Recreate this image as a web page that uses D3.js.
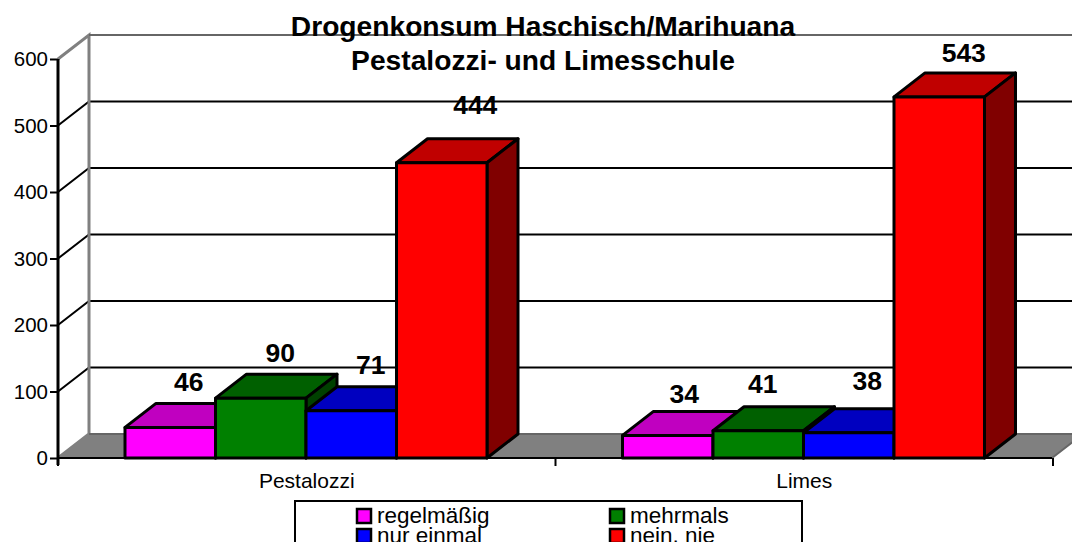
<!DOCTYPE html>
<html>
<head>
<meta charset="utf-8">
<style>
  html, body { margin: 0; padding: 0; background: #fff; overflow: hidden; }
  svg { display: block; font-family: "Liberation Sans", Arial, sans-serif; }
</style>
<script src="https://d3js.org/d3.v7.min.js"></script>
</head>
<body>
<div id="chart"></div>
<script type="text/javascript">
var categories = ["Pestalozzi", "Limes"];
var seriesNames = ["regelmäßig", "mehrmals", "nur einmal", "nein, nie"];
var regelmaessig = [46, 34];
var mehrmals = [90, 41];
var nurEinmal = [71, 38];
var neinNie = [444, 543];
var yTicks = [0, 100, 200, 300, 400, 500, 600];
var titleLines = ["Drogenkonsum Haschisch/Marihuana", "Pestalozzi- und Limesschule"];

var seriesValues = [regelmaessig, mehrmals, nurEinmal, neinNie];
var frontColors = ["#ff00ff", "#008000", "#0000ff", "#ff0000"];
var topColors = ["#c000c0", "#006000", "#0000c0", "#c00000"];
var sideColors = ["#800080", "#004000", "#000080", "#800000"];

// label offsets from the bar's back top edge, the original places them by hand
var labelNudge = [
  [[3, -12], [4, -12], [4, -13], [18, -25]],
  [[1, -8], [-11, -14], [3, -19], [9, -11]]
];

var w = 1072,
    h = 542,
    dx = 31,
    dy = -24;

var svg = d3.select("#chart").append("svg")
    .attr("width", w)
    .attr("height", h);

var x0 = d3.scaleBand().domain(categories).range([58, 1053]);
var x1 = d3.scaleBand().domain(d3.range(4)).range([67, 429]);
var y = d3.scaleLinear().domain([0, 600]).range([458, 59]);

// walls and floor
svg.append("path")
    .attr("d", "M" + [58, y(0)] + "L" + [58 + dx, y(0) + dy] + "L" + [1052 + dx, y(0) + dy] + "L" + [1052, y(0)] + "Z")
    .attr("fill", "#808080");

svg.selectAll(".grid")
    .data(yTicks.slice(1, 6))
    .enter().append("path")
    .attr("d", function(d) {
      return "M" + [58, y(d)] + "L" + [58 + dx, y(d) + dy] + "H" + (1052 + dx);
    })
    .attr("fill", "none")
    .attr("stroke", "#000")
    .attr("stroke-width", 2);

svg.append("path")
    .attr("d", "M" + [58, y(600)] + "L" + [58 + dx, y(600) + dy] + "V" + (y(0) + dy) + "L" + [58, y(0)])
    .attr("fill", "none")
    .attr("stroke", "#808080")
    .attr("stroke-width", 3);

svg.append("path")
    .attr("d", "M" + [58 + dx, y(600) + dy] + "H" + (1052 + dx) + "M" + [58 + dx, y(0) + dy] + "H" + (1052 + dx) + "L" + [1052, y(0)])
    .attr("fill", "none")
    .attr("stroke", "#666")
    .attr("stroke-width", 2);

// axes
var yAxis = d3.axisLeft(y).tickValues(yTicks).tickSize(8).tickPadding(2);
var yG = svg.append("g").attr("transform", "translate(58,0)").call(yAxis);
yG.selectAll("text").attr("font-size", 20.5).attr("font-family", "inherit").attr("fill", "#000");
yG.selectAll("line").attr("stroke", "#000").attr("stroke-width", 2);
yG.select(".domain").attr("stroke", "#000").attr("stroke-width", 3).attr("d", "M0," + y(600) + "V465");

var xG = svg.append("g").attr("transform", "translate(0," + y(0) + ")");
xG.append("path").attr("d", "M58,0H1052").attr("stroke", "#000").attr("stroke-width", 2);
xG.selectAll("line")
    .data([58, 58 + x0.bandwidth(), 58 + 2 * x0.bandwidth()])
    .enter().append("line")
    .attr("x1", function(d) { return d; })
    .attr("x2", function(d) { return d; })
    .attr("y2", 8)
    .attr("stroke", "#000")
    .attr("stroke-width", 2);
xG.selectAll("text")
    .data(categories)
    .enter().append("text")
    .attr("x", function(d) { return x0(d) + x0.bandwidth() / 2; })
    .attr("y", 30)
    .attr("text-anchor", "middle")
    .attr("font-size", 21)
    .text(function(d) { return d; });

// bars
categories.forEach(function(cat, c) {
  seriesValues.forEach(function(vals, s) {
    var left = x0(cat) + x1(s),
        right = left + x1.bandwidth(),
        top = y(vals[c]),
        base = y(0);
    var g = svg.append("g")
        .attr("stroke", "#000")
        .attr("stroke-width", 3)
        .attr("stroke-linejoin", "round");
    g.append("path")
        .attr("fill", topColors[s])
        .attr("d", "M" + [left, top] + "L" + [left + dx, top + dy] + "H" + (right + dx) + "L" + [right, top] + "Z");
    g.append("path")
        .attr("fill", sideColors[s])
        .attr("d", "M" + [right, top] + "L" + [right + dx, top + dy] + "V" + (base + dy) + "L" + [right, base] + "Z");
    g.append("path")
        .attr("fill", frontColors[s])
        .attr("d", "M" + [left, top] + "H" + right + "V" + base + "H" + left + "Z");
  });
});

// value labels
categories.forEach(function(cat, c) {
  seriesValues.forEach(function(vals, s) {
    svg.append("text")
        .attr("x", x0(cat) + x1(s) + x1.bandwidth() / 2 + dx / 2 + labelNudge[c][s][0])
        .attr("y", y(vals[c]) + dy + labelNudge[c][s][1])
        .attr("text-anchor", "middle")
        .attr("font-size", 26.5)
        .attr("font-weight", "bold")
        .text(vals[c]);
  });
});

// title
svg.selectAll(".title")
    .data(titleLines)
    .enter().append("text")
    .attr("class", "title")
    .attr("x", 543)
    .attr("y", function(d, i) { return 36 + i * 34; })
    .attr("text-anchor", "middle")
    .attr("font-size", 28.2)
    .attr("font-weight", "bold")
    .text(function(d) { return d; });

// legend
svg.append("rect")
    .attr("x", 295)
    .attr("y", 501)
    .attr("width", 507)
    .attr("height", 60)
    .attr("fill", "#fff")
    .attr("stroke", "#000")
    .attr("stroke-width", 2);

var legend = svg.selectAll(".legend")
    .data(seriesNames)
    .enter().append("g")
    .attr("class", "legend")
    .attr("transform", function(d, i) {
      return "translate(" + (i % 2 ? 610 : 357) + "," + (i < 2 ? 509 : 529) + ")";
    });
legend.append("rect")
    .attr("width", 14)
    .attr("height", 14)
    .attr("fill", function(d, i) { return frontColors[i]; })
    .attr("stroke", "#000")
    .attr("stroke-width", 2.5);
legend.append("text")
    .attr("x", 20)
    .attr("y", 14)
    .attr("font-size", 22.5)
    .text(function(d) { return d; });
</script>
</body>
</html>
